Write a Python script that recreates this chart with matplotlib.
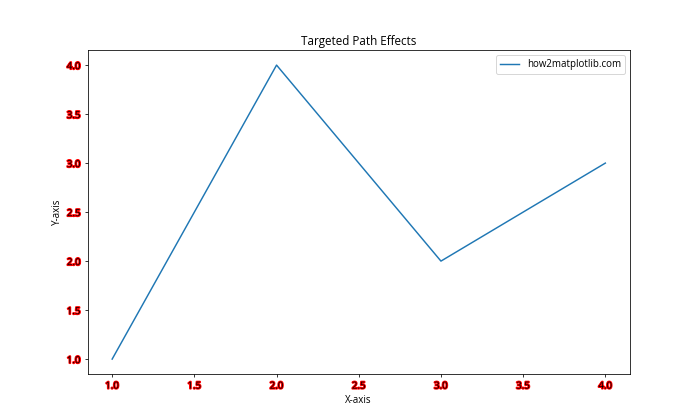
import matplotlib
matplotlib.use('Agg')
import matplotlib.pyplot as plt
import matplotlib.patheffects as pe

plt.rcParams['font.family'] = ['Open Sans', 'DejaVu Sans']

x = [1, 2, 3, 4]
y = [1, 4, 2, 3]


def main():
    fig, ax = plt.subplots(figsize=(10, 6), dpi=70)
    ax.plot(x, y, label='how2matplotlib.com')
    ax.set_title('Targeted Path Effects')
    ax.set_xlabel('X-axis')
    ax.set_ylabel('Y-axis')
    ax.legend()

    # stroke only the tick labels
    for label in ax.get_xticklabels() + ax.get_yticklabels():
        label.set_path_effects([pe.withStroke(linewidth=2, foreground='red')])

    fig.savefig('out.png')


if __name__ == '__main__':
    main()
